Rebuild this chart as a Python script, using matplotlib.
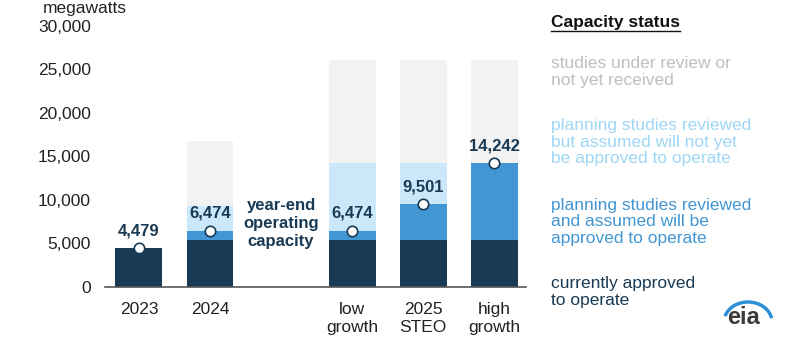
import matplotlib
matplotlib.use("Agg")
import matplotlib.pyplot as plt
import numpy as np
from matplotlib.lines import Line2D
from matplotlib.patches import Arc

plt.rcParams['font.family'] = ['Liberation Sans', 'DejaVu Sans']

categories = ["2023", "2024", "low\ngrowth", "2025\nSTEO", "high\ngrowth"]
positions = [0, 1, 3, 4, 5]
approved = [4479, 5400, 5400, 5400, 5400]
operating = [4479, 6474, 6474, 9501, 14242]
reviewed_top = [4479, 9250, 14242, 14242, 14242]
all_top = [4479, 16800, 26100, 26100, 26100]
yticks = [0, 5000, 10000, 15000, 20000, 25000, 30000]

c_dark = "#193a54"
c_med = "#4196d3"
c_light = "#cae8fa"
c_gray = "#f2f2f2"
t_gray = "#bfbfbf"
t_light = "#9fd6f5"

fig = plt.figure(figsize=(8, 3.5), dpi=100)
ax = fig.add_axes([0.131, 0.18, 0.527, 0.746])

approved = np.array(approved)
operating = np.array(operating)
reviewed_top = np.array(reviewed_top)
all_top = np.array(all_top)
w = 0.66
ax.bar(positions, approved, width=w, color=c_dark, zorder=2)
ax.bar(positions, operating - approved, bottom=approved, width=w, color=c_med, zorder=2)
ax.bar(positions, reviewed_top - operating, bottom=operating, width=w, color=c_light, zorder=2)
ax.bar(positions, all_top - reviewed_top, bottom=reviewed_top, width=w, color=c_gray, zorder=2)

ax.plot(positions, operating, linestyle='none', marker='o', markersize=7.5,
        markerfacecolor='white', markeredgecolor=c_dark, markeredgewidth=1.2, zorder=4)
for x, v in zip(positions, operating):
    ax.annotate(f"{v:,}", (x, v), xytext=(0, 7), textcoords='offset points',
                ha='center', va='bottom', fontsize=12, fontweight='bold', color=c_dark)

ax.text(2, 7250, "year-end\noperating\ncapacity", ha='center', va='center',
        fontsize=12, fontweight='bold', color=c_dark, linespacing=1.25)

ax.set_xlim(-0.48, 5.45)
ax.set_ylim(0, 30000)
ax.set_yticks(yticks)
ax.set_yticklabels([f"{t:,}" for t in yticks], fontsize=12.5, color="#222222")
ax.set_xticks(positions)
ax.set_xticklabels(categories, fontsize=12.5, color="#222222", linespacing=1.2)
ax.tick_params(length=0, pad=10)
ax.tick_params(axis='x', pad=11)
for s in ['top', 'right', 'left']:
    ax.spines[s].set_visible(False)
ax.spines['bottom'].set_color("#555555")
ax.spines['bottom'].set_linewidth(1.2)

fig.text(85 / 800, 1 - 1 / 350, "megawatts", ha='center', va='top', fontsize=12.5, color="#222222")

# legend
lx = 551 / 800
fig.text(lx, 1 - 22 / 350, "Capacity status", ha='left', va='center', fontsize=12.5,
         fontweight='bold', color="#111111")
fig.add_artist(Line2D([lx, 680 / 800], [1 - 31 / 350, 1 - 31 / 350], color="#111111", lw=1.0))
groups = [
    ("studies under review or\nnot yet received", t_gray, 72),
    ("planning studies reviewed\nbut assumed will not yet\nbe approved to operate", t_light, 142),
    ("planning studies reviewed\nand assumed will be\napproved to operate", c_med, 222),
    ("currently approved\nto operate", c_dark, 292),
]
for txt, col, yc in groups:
    fig.text(lx, 1 - yc / 350, txt, ha='left', va='center', fontsize=12.5, color=col, linespacing=1.15)

# eia logo
fig.text(744 / 800, 1 - 318 / 350, "eia", ha='center', va='center', fontsize=17,
         fontweight='bold', color="#3a3a3a")
arc = Arc((748 / 800, 1 - 322 / 350), 48 / 800, 40 / 350, theta1=20, theta2=150,
          transform=fig.transFigure, color="#2f8fd6", lw=2.5)
fig.add_artist(arc)

fig.savefig("out.png", dpi=100)
